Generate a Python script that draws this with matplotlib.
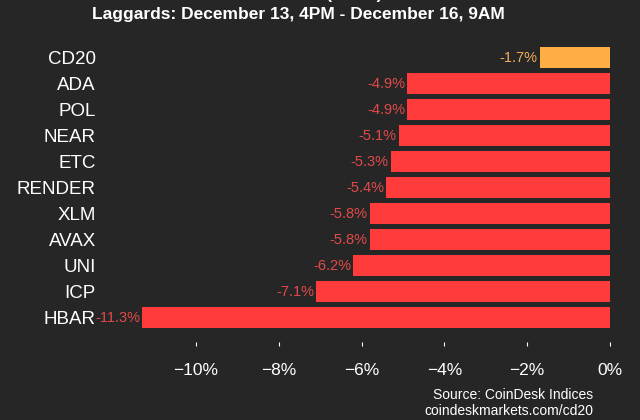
import matplotlib
matplotlib.use("Agg")
import matplotlib.pyplot as plt
from matplotlib.ticker import FuncFormatter

categories = ["CD20", "ADA", "POL", "NEAR", "ETC", "RENDER", "XLM", "AVAX", "UNI", "ICP", "HBAR"]
values = [-1.7, -4.9, -4.9, -5.1, -5.3, -5.4, -5.8, -5.8, -6.2, -7.1, -11.3]
xticks = [-10, -8, -6, -4, -2, 0]
title_line1 = "CoinDesk 20 (CD20)"
title_line2 = "Laggards: December 13, 4PM - December 16, 9AM"
source_lines = ["Source: CoinDesk Indices", "coindeskmarkets.com/cd20"]

BG = "#262626"
RED = "#ff3b3b"
ORANGE = "#ffad45"
RED_TXT = "#e24a4a"
ORANGE_TXT = "#f2ad5a"

W, H = 640, 420
fig = plt.figure(figsize=(W / 100, H / 100), dpi=100, facecolor=BG)

ax_left, ax_right, ax_top, ax_bottom = 100, 625, 40, 342
ax = fig.add_axes([ax_left / W, 1 - ax_bottom / H, (ax_right - ax_left) / W, (ax_bottom - ax_top) / H])
ax.set_facecolor(BG)

px_per_unit = 41.4
zero_px = 610
ax.set_xlim((ax_left - zero_px) / px_per_unit, (ax_right - zero_px) / px_per_unit)
row_px = 26
first_center = 57.5
ax.set_ylim((ax_bottom - first_center) / row_px, (ax_top - first_center) / row_px)

ypos = list(range(len(categories)))
colors = [ORANGE if c == "CD20" else RED for c in categories]
ax.barh(ypos, values, height=0.8, color=colors)

for y, v, c in zip(ypos, values, categories):
    tc = ORANGE_TXT if c == "CD20" else RED_TXT
    ax.text(v - 0.05, y, f"{v:.1f}%", ha="right", va="center", color=tc,
            fontsize=10.5, family="Liberation Sans")

ax.set_yticks(ypos)
ax.set_yticklabels(categories, fontsize=13.5, color="white", family="Liberation Sans")
ax.set_xticks(xticks)
ax.xaxis.set_major_formatter(FuncFormatter(lambda x, p: ("\u2212" if x < 0 else "") + f"{abs(x):.0f}%"))
for lab in ax.get_xticklabels():
    lab.set_family("Liberation Sans")
ax.tick_params(axis="x", colors="white", labelsize=12.5, length=3, width=0.8, pad=12, direction="out")
ax.tick_params(axis="y", length=0, pad=3)
for s in ax.spines.values():
    s.set_visible(False)

fig.text(300 / W, 1 - (-5) / H, title_line1, ha="center", va="center", color="white",
         fontsize=12.5, fontweight="bold", family="Liberation Sans")
fig.text(298 / W, 1 - 14 / H, title_line2, ha="center", va="center", color="white",
         fontsize=12.5, fontweight="bold", family="Liberation Sans")

fig.text(593 / W, 1 - 395 / H, source_lines[0], ha="right", va="center", color="white",
         fontsize=10, family="Liberation Sans")
fig.text(593 / W, 1 - 411 / H, source_lines[1], ha="right", va="center", color="white",
         fontsize=10, family="Liberation Sans")

fig.savefig("out.png", dpi=100, facecolor=BG)
